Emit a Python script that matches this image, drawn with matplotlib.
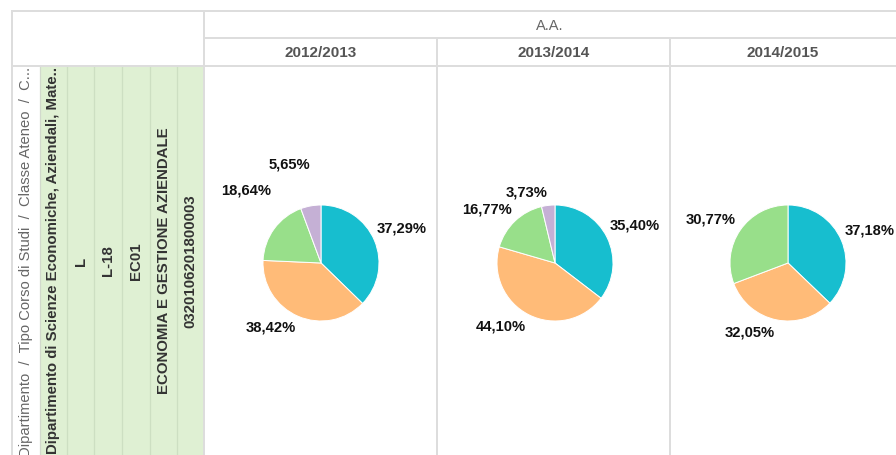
import matplotlib
matplotlib.use("Agg")
import matplotlib.pyplot as plt
import numpy as np
from matplotlib.patches import Rectangle

plt.rcParams['font.family'] = ['Liberation Sans', 'DejaVu Sans']

# ---------------- data ----------------
years = ["2012/2013", "2013/2014", "2014/2015"]
pie_2012 = [37.29, 38.42, 18.64, 5.65]
pie_2013 = [35.40, 44.10, 16.77, 3.73]
pie_2014 = [37.18, 32.05, 30.77]
pies = [pie_2012, pie_2013, pie_2014]
slice_colors = ["#17becf", "#ffbb78", "#98df8a", "#c5b0d5"]

header_group = "A.A."
row_header = "Dipartimento  /  Tipo Corso di Studi  /  Classe Ateneo  /  C..."
row_values = ["Dipartimento di Scienze Economiche, Aziendali, Mate..",
              "L", "L-18", "EC01", "ECONOMIA E GESTIONE AZIENDALE",
              "0320106201800003"]

# ---------------- layout (pixels) ----------------
W, H = 896, 455
fig = plt.figure(figsize=(W / 100, H / 100), dpi=100)
ax = fig.add_axes([0, 0, 1, 1])
ax.set_xlim(0, W)
ax.set_ylim(H, 0)
ax.axis("off")

line_c = "#dddddd"
lw = 1.4
left, top = 12, 11
row1, row2 = 38, 66
left_block_r = 204
col_edges = [204, 437, 670, W + 5]
green_edges = [40, 67, 94, 122, 150, 177, 204]

# green area
ax.add_patch(Rectangle((green_edges[0], row2), green_edges[-1] - green_edges[0], H - row2,
                       facecolor="#dff0d3", edgecolor="none", zorder=0))
for x in green_edges[1:-1]:
    ax.plot([x, x], [row2, H], color="#cddfc2", lw=0.9, zorder=1)
ax.plot([green_edges[0], green_edges[0]], [row2, H], color="#d2d9cd", lw=0.9, zorder=1)

# table lines
ax.plot([left, W], [top, top], color=line_c, lw=lw)
ax.plot([left_block_r, W], [row1, row1], color=line_c, lw=lw)
ax.plot([left, W], [row2, row2], color=line_c, lw=lw)
ax.plot([left, left], [top, H], color=line_c, lw=lw)
ax.plot([left_block_r, left_block_r], [top, H], color=line_c, lw=lw)
for x in col_edges[1:-1]:
    ax.plot([x, x], [row1, H], color=line_c, lw=lw)

# header texts
ax.text((left_block_r + W) / 2, (top + row1) / 2 + 1, header_group, ha="center", va="center",
        fontsize=10.5, color="#666666")
for i, y in enumerate(years):
    ax.text((col_edges[i] + col_edges[i + 1] - (5 if i == 2 else 0)) / 2, (row1 + row2) / 2 + 1, y,
            ha="center", va="center", fontsize=11, fontweight="bold", color="#555555")

# left rotated header
ax.text((left + green_edges[0]) / 2, row2 + 1, row_header, rotation=90, ha="center", va="top",
        fontsize=10.6, color="#666666", clip_on=True)

# green column texts
for i, txt in enumerate(row_values):
    cx = (green_edges[i] + green_edges[i + 1]) / 2
    if i == 0:
        ax.text(cx, row2 + 1, txt, rotation=90, ha="center", va="top", fontsize=10.8,
                fontweight="bold", color="#333333", clip_on=True)
    else:
        ax.text(cx, 261, txt, rotation=90, ha="center", va="center", fontsize=10.8,
                fontweight="bold", color="#333333")

# ---------------- pies ----------------
centers_x = [321, 555, 788]
center_y = 263
r_px = 58
half = 110
lim = half / r_px
label_R = 1.45
nudges = [
    [(3, 2), (-17, 13), (-7, 23), (-17, 16)],
    [(4, 0), (-16, 12), (-10, -7), (-19, -13)],
    [(4, 0), (-21, 13), (-8, -4)],
]
for k, vals in enumerate(pies):
    cx = centers_x[k]
    pax = fig.add_axes([(cx - half) / W, (H - center_y - half) / H, 2 * half / W, 2 * half / H])
    pax.pie(vals, colors=slice_colors[:len(vals)], startangle=90, counterclock=False,
            radius=1, wedgeprops=dict(edgecolor="white", linewidth=0.7))
    pax.set_xlim(-lim, lim)
    pax.set_ylim(-lim, lim)
    pax.set_aspect("equal")
    pax.axis("off")
    total = float(np.sum(vals))
    cum = 0.0
    for j, v in enumerate(vals):
        mid = cum + v / 2
        cum += v
        a = np.deg2rad(90 - 360 * mid / total)
        dx, dy = nudges[k][j]
        x = label_R * np.cos(a) + dx / r_px
        y = label_R * np.sin(a) + dy / r_px
        pax.text(x, y, f"{v:.2f}".replace(".", ",") + "%", ha="center", va="center",
                 fontsize=10.6, fontweight="bold", color="#111111", clip_on=False)

fig.savefig("out.png", dpi=100)
